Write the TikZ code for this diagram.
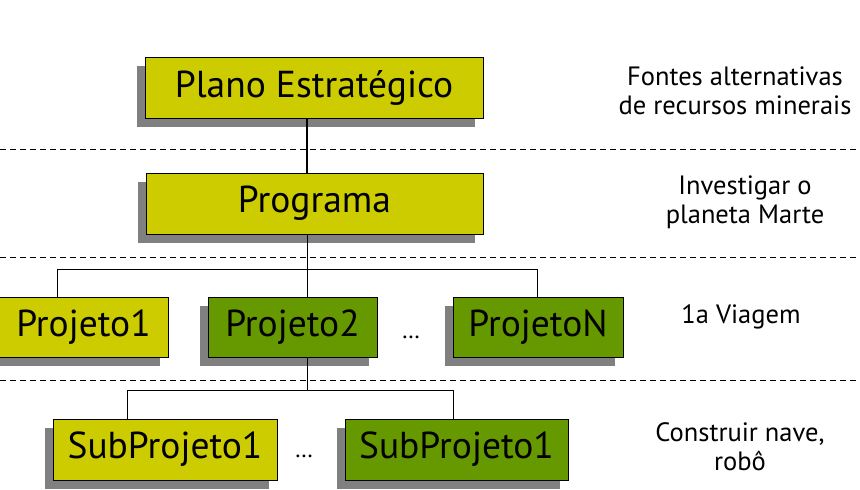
\documentclass[tikz,border=0pt]{standalone}
\usepackage{fontspec}
\setmainfont{PT Sans}
\usetikzlibrary{shadows}

\definecolor{oliva}{RGB}{204,204,0}
\definecolor{verde}{RGB}{102,153,0}
\definecolor{sombra}{RGB}{128,128,128}

\begin{document}
\begin{tikzpicture}[x=1pt,y=-1pt,
  caixa/.style={draw,line width=1pt,minimum height=61pt,inner sep=0pt,
    font=\fontsize{37.5}{37.5}\selectfont,
    drop shadow={shadow xshift=-8pt,shadow yshift=-8.5pt,fill=sombra,opacity=1}},
  clara/.style={caixa,fill=oliva},
  escura/.style={caixa,fill=verde},
  nota/.style={align=center,font=\fontsize{26.5}{29}\selectfont},
  divisa/.style={dash pattern=on 6pt off 4pt,line width=.8pt}]
\useasboundingbox (0,0) rectangle (860,490);
% faixas
\draw[divisa] (0,149) -- (860,149);
\draw[divisa] (0,257) -- (860,257);
\draw[divisa] (0,380) -- (860,380);
% caixas
\node[clara,minimum width=338pt] (plano) at (314,88) {Plano Estratégico};
\node[clara,minimum width=337pt] (programa) at (314.5,203.5) {Programa};
\node[clara,minimum width=169pt,minimum height=60pt] (proj1) at (83.5,327) {Projeto1};
\node[escura,minimum width=169pt,minimum height=60pt] (proj2) at (292.5,327) {Projeto2};
\node[escura,minimum width=170pt,minimum height=60pt] (projN) at (538,327) {ProjetoN};
\node[clara,minimum width=224pt] (sub1) at (165,449.5) {SubProjeto1};
\node[escura,minimum width=223pt] (sub2) at (456.5,449.5) {SubProjeto1};
\node[font=\fontsize{24}{24}\selectfont] (pts1) at (411,337) {\dots};
\node[font=\fontsize{24}{24}\selectfont] (pts2) at (304,456) {\dots};
% ligacoes
\coordinate (eixo) at (307,0);
\coordinate (barra1e) at (57,269);
\coordinate (barra1d) at (537,269);
\coordinate (barra2e) at (127,390);
\coordinate (barra2d) at (453,390);
\draw[line width=2pt] (plano.south -| eixo) -- (programa.north -| eixo);
\draw[line width=1pt] (programa.south -| eixo) -- (proj2.north -| eixo);
\draw[line width=1pt] (barra1e |- proj1.north) -- (barra1e) -- (barra1d) -- (barra1d |- projN.north);
\draw[line width=1pt] (proj2.south -| eixo) -- (eixo |- barra2e);
\draw[line width=1pt] (barra2e |- sub1.north) -- (barra2e) -- (barra2d) -- (barra2d |- sub2.north);
% notas
\node[nota] (nota1) at (735,91) {Fontes alternativas\\de recursos minerais};
\node[nota] (nota2) at (745,202) {Investigar o\\planeta Marte};
\node[nota] (nota3) at (741,317) {1a Viagem};
\node[nota] (nota4) at (740,447) {Construir nave,\\robô};
\end{tikzpicture}
\end{document}
